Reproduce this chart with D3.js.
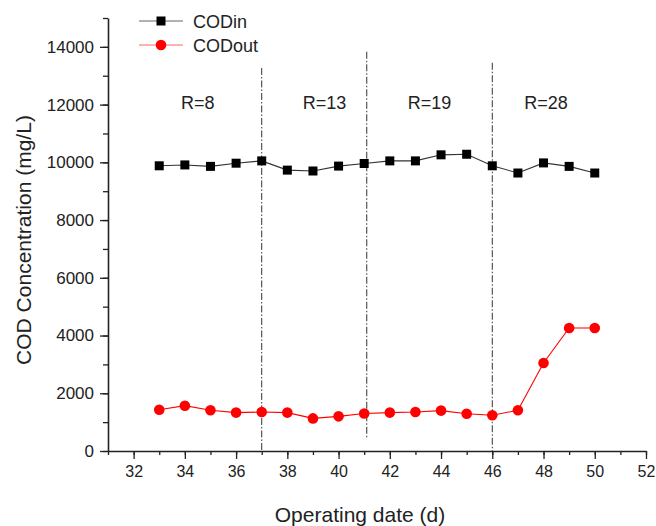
<!DOCTYPE html>
<html lang="en">
<head>
  <meta charset="UTF-8">
  <title>COD concentration</title>
  <script src="https://cdn.jsdelivr.net/npm/d3@7"></script>
  <style>
    body { margin: 0; background: #fff; }
    svg { font-family: "Liberation Sans", Arial, sans-serif; }
  </style>
</head>
<body>
<script>
  // operating day
  const days = [33, 34, 35, 36, 37, 38, 39, 40, 41, 42, 43, 44, 45, 46, 47, 48, 49, 50];
  const codIn = [9880, 9910, 9860, 9970, 10050, 9730, 9700, 9870, 9960, 10050, 10050, 10260, 10280, 9880, 9630, 9980, 9860, 9630];
  const codOut = [1430, 1570, 1410, 1330, 1350, 1330, 1130, 1200, 1300, 1330, 1350, 1400, 1290, 1240, 1410, 3050, 4260, 4260];

  const xTicks = [32, 34, 36, 38, 40, 42, 44, 46, 48, 50, 52];
  const yTicks = [0, 2000, 4000, 6000, 8000, 10000, 12000, 14000];

  // dash-dot separators between R stages: [x, top, bottom]
  const stageLines = [[37, 13270, 0], [41.1, 13830, 440], [46, 13450, 0]];
  const stageLabels = ['R=8', 'R=13', 'R=19', 'R=28'];
  const stageLabelX = [34.5, 39.45, 43.55, 48.1];
  const stageLabelY = 12000;

  const series = [
    {name: 'CODin', values: codIn, color: '#333', shape: 'square'},
    {name: 'CODout', values: codOut, color: '#ff0000', shape: 'circle'}
  ];

  const width = 656, height = 526;
  const margin = {top: 18, right: 10, bottom: 75, left: 108};

  const x = d3.scaleLinear().domain([31, 52]).range([margin.left, width - margin.right]);
  const y = d3.scaleLinear().domain([0, 15000]).range([height - margin.bottom, margin.top]);

  const svg = d3.select('body').append('svg').attr('width', width).attr('height', height);

  // axes (minor first, major on top)
  const x0 = height - margin.bottom;
  svg.append('g').attr('transform', `translate(0,${x0})`)
    .call(d3.axisBottom(x).tickValues(d3.range(31, 53, 1)).tickSize(4).tickFormat(''))
    .call(g => g.select('.domain').remove())
    .call(g => g.selectAll('line').attr('stroke', '#222').attr('stroke-width', 1.3));
  svg.append('g').attr('transform', `translate(0,${x0})`)
    .call(d3.axisBottom(x).tickValues(xTicks).tickSize(8).tickPadding(7).tickSizeOuter(0))
    .call(g => g.select('.domain').attr('stroke', '#222').attr('stroke-width', 1.6))
    .call(g => g.selectAll('line').attr('stroke', '#222').attr('stroke-width', 1.3))
    .call(g => g.selectAll('text').attr('font-size', 16).attr('fill', '#222').style('font-family', 'Liberation Sans, Arial, sans-serif'));

  svg.append('g').attr('transform', `translate(${margin.left},0)`)
    .call(d3.axisLeft(y).tickValues(d3.range(0, 15001, 1000)).tickSize(5).tickFormat(''))
    .call(g => g.select('.domain').remove())
    .call(g => g.selectAll('line').attr('stroke', '#222').attr('stroke-width', 1.3));
  svg.append('g').attr('transform', `translate(${margin.left},0)`)
    .call(d3.axisLeft(y).tickValues(yTicks).tickFormat(d3.format('d')).tickSize(8).tickPadding(6).tickSizeOuter(0))
    .call(g => g.select('.domain').attr('stroke', '#222').attr('stroke-width', 1.6))
    .call(g => g.selectAll('line').attr('stroke', '#222').attr('stroke-width', 1.3))
    .call(g => g.selectAll('text').attr('font-size', 17).attr('fill', '#222').style('font-family', 'Liberation Sans, Arial, sans-serif'));

  // axis titles
  svg.append('text')
    .attr('x', 360).attr('y', 522)
    .attr('text-anchor', 'middle').attr('font-size', 21).attr('fill', '#222')
    .text('Operating date (d)');
  svg.append('text')
    .attr('transform', `translate(31,240) rotate(-90)`)
    .attr('text-anchor', 'middle').attr('font-size', 21).attr('fill', '#222')
    .text('COD Concentration (mg/L)');

  // stage separators
  svg.append('g').selectAll('line').data(stageLines).join('line')
    .attr('x1', d => x(d[0])).attr('x2', d => x(d[0]))
    .attr('y1', d => y(d[1])).attr('y2', d => y(d[2]))
    .attr('stroke', '#333').attr('stroke-width', 1)
    .attr('stroke-dasharray', '7,2,1.5,2');

  svg.append('g').selectAll('text').data(stageLabels).join('text')
    .attr('x', (d, i) => x(stageLabelX[i])).attr('y', y(stageLabelY) + 4)
    .attr('text-anchor', 'middle').attr('font-size', 18).attr('fill', '#222')
    .text(d => d);

  // series
  const line = d3.line().x((d, i) => x(days[i])).y(d => y(d));

  series.forEach(s => {
    svg.append('path')
      .datum(s.values)
      .attr('fill', 'none')
      .attr('stroke', s.color)
      .attr('stroke-width', 1.1)
      .attr('d', line);
    const g = svg.append('g');
    if (s.shape === 'square') {
      g.selectAll('rect').data(s.values).join('rect')
        .attr('x', (d, i) => x(days[i]) - 4.5).attr('y', d => y(d) - 4.5)
        .attr('width', 9).attr('height', 9)
        .attr('fill', '#000');
    } else {
      g.selectAll('circle').data(s.values).join('circle')
        .attr('cx', (d, i) => x(days[i])).attr('cy', d => y(d))
        .attr('r', 5.3)
        .attr('fill', '#ff0000');
    }
  });

  // legend
  const legend = svg.append('g').attr('transform', 'translate(139,21)');
  series.forEach((s, i) => {
    const row = legend.append('g').attr('transform', `translate(0,${i * 24})`);
    row.append('line').attr('x1', 0).attr('x2', 44)
      .attr('stroke', s.shape === 'square' ? '#666' : '#ff6666').attr('stroke-width', 1.2);
    if (s.shape === 'square') {
      row.append('rect').attr('x', 22 - 4.5).attr('y', -4.5).attr('width', 9).attr('height', 9).attr('fill', '#000');
    } else {
      row.append('circle').attr('cx', 22).attr('cy', 0).attr('r', 5.3).attr('fill', '#ff0000');
    }
    row.append('text').attr('x', 54).attr('y', 7)
      .attr('font-size', 18).attr('fill', '#222').text(s.name);
  });
</script>
</body>
</html>
